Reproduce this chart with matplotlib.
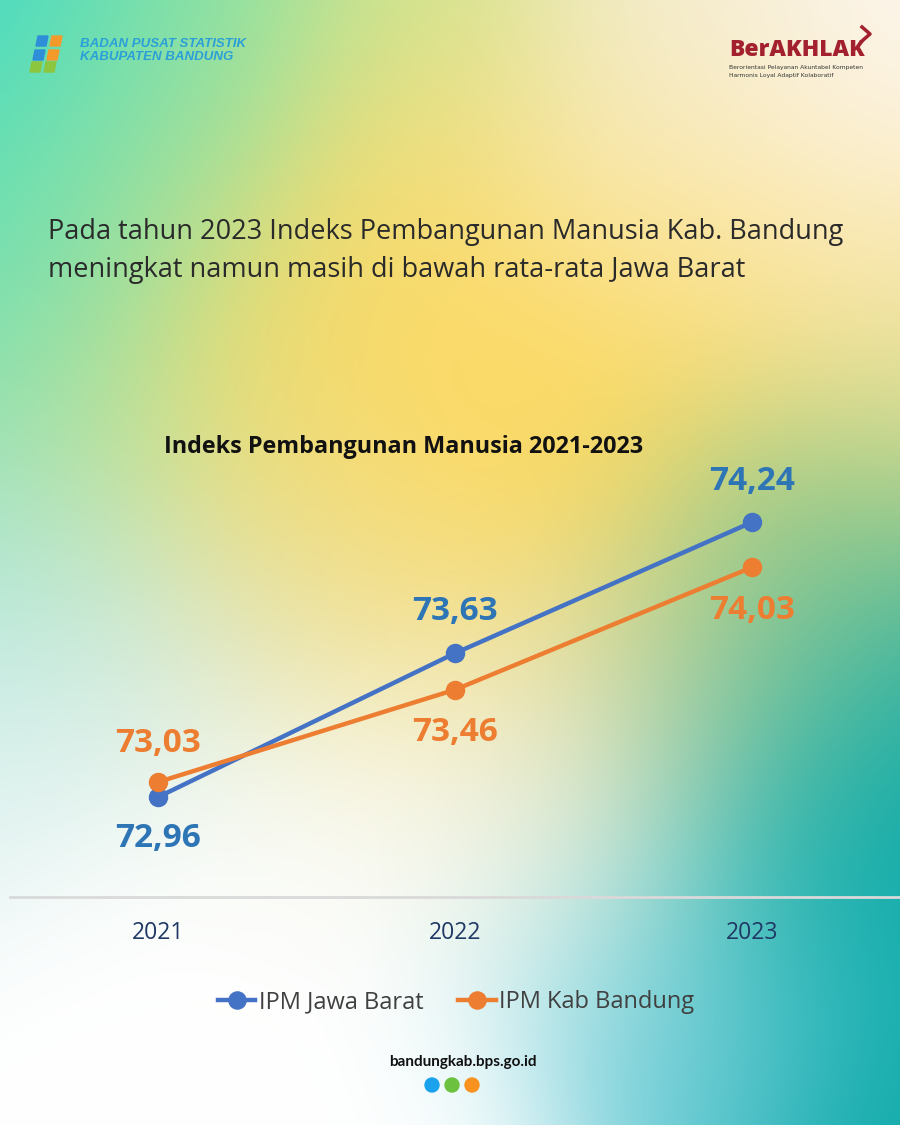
import numpy as np
import matplotlib.pyplot as plt
from matplotlib.colors import to_rgb
from matplotlib.patches import Circle, Polygon

# data
years = [2021, 2022, 2023]
ipm_jabar = [72.96, 73.63, 74.24]
ipm_kab = [73.03, 73.46, 74.03]
series_names = ["IPM Jawa Barat", "IPM Kab Bandung"]
headline = ("Pada tahun 2023 Indeks Pembangunan Manusia Kab. Bandung\n"
            "meningkat namun masih di bawah rata-rata Jawa Barat")
chart_title = "Indeks Pembangunan Manusia 2021-2023"

W, H = 900, 1125
fig = plt.figure(figsize=(9, 11.25), dpi=100)

# background gradient (blend of coloured blobs)
ctrl = [
    (0, 0, "#3edac8"), (0, 170, "#5ce0b6"), (200, 0, "#86e2a4"),
    (150, 180, "#a8e09a"), (420, 0, "#d0e48e"), (420, 160, "#f8dc76"),
    (620, 150, "#f9eab4"), (680, 0, "#f4ecd4"), (900, 0, "#fdf6ee"),
    (820, 170, "#fcf2dc"), (900, 320, "#fae6a8"), (720, 300, "#fcdb6c"),
    (450, 330, "#fdd962"), (280, 330, "#f6da6a"), (0, 330, "#78e0b4"),
    (120, 420, "#c2e194"), (300, 480, "#f6db74"), (560, 470, "#fdd95e"),
    (450, 600, "#f9dc76"), (300, 620, "#e8e2a6"), (0, 560, "#a8e6d6"),
    (140, 660, "#cdeae2"), (0, 760, "#e2f3f2"), (250, 800, "#fbfcf8"),
    (420, 830, "#ffffff"), (150, 950, "#ffffff"), (420, 1110, "#ffffff"),
    (150, 1110, "#ffffff"), (600, 900, "#c8ecf0"), (680, 1050, "#70cdd8"),
    (780, 900, "#18b0b0"), (900, 800, "#04a8a8"), (900, 1125, "#10aaaa"),
    (900, 650, "#1caea8"), (820, 560, "#86c688"), (900, 470, "#d0d882"),
    (700, 620, "#d0d488"), (760, 720, "#52baa6"), (600, 720, "#e8e0b0"),
    (500, 760, "#f6f2dc"),
]
yy, xx = np.mgrid[0:H:3, 0:W:3]
num = np.zeros(xx.shape + (3,))
den = np.zeros(xx.shape)
for cx, cy, c in ctrl:
    w = np.exp(-((xx - cx) ** 2 + (yy - cy) ** 2) / (2 * 110.0 ** 2)) + 1e-12
    num += w[..., None] * np.array(to_rgb(c))
    den += w
bg = np.clip(num / den[..., None], 0, 1)
bax = fig.add_axes([0, 0, 1, 1])
bax.imshow(bg, extent=[0, W, H, 0], aspect="auto", interpolation="bicubic")
bax.set_xlim(0, W)
bax.set_ylim(H, 0)
bax.axis("off")

# BPS logo (approximate)
for dx, dy, c in [(36, 36, "#2e8fd8"), (50, 36, "#f39a2b"), (33, 50, "#2e8fd8"),
                  (47, 50, "#f39a2b"), (30, 62, "#8cc63f"), (44, 62, "#8cc63f")]:
    bax.add_patch(Polygon([(dx + 2, dy), (dx + 12, dy), (dx + 10, dy + 10), (dx, dy + 10)],
                          closed=True, color=c))
bax.text(80, 44, "BADAN PUSAT STATISTIK", fontsize=9.5, color="#2b9fd8",
         fontweight="bold", style="italic", va="center", family="Liberation Sans")
bax.text(80, 57, "KABUPATEN BANDUNG", fontsize=9.5, color="#2b9fd8",
         fontweight="bold", style="italic", va="center", family="Liberation Sans")

# BerAKHLAK logo
bax.text(729, 50, "BerAKHLAK", fontsize=16.5, color="#a3202f", fontweight="heavy",
         va="center", family="Open Sans")
bax.plot([862, 870, 862], [27, 34, 41], color="#a3202f", lw=2.5)
bax.text(729, 68, "Berorientasi Pelayanan Akuntabel Kompeten", fontsize=4.3,
         color="#333333", va="center")
bax.text(729, 76, "Harmonis Loyal Adaptif Kolaboratif", fontsize=4.3,
         color="#333333", va="center")

# headline
bax.text(48, 251, headline, fontsize=19.5, color="#2a2a2a", va="center",
         linespacing=1.45, family="Open Sans")

# footer
bax.text(463, 1062, "bandungkab.bps.go.id", fontsize=11, fontweight="bold",
         color="#111111", ha="center", va="center", family="Lato")
for cx, c in [(432, "#1aa3ec"), (452, "#6cc23e"), (472, "#f7921e")]:
    bax.add_patch(Circle((cx, 1085), 7, color=c))

# chart title
bax.text(404, 447, chart_title, fontsize=16.8, fontweight="bold", color="#111111",
         ha="center", va="center", family="Open Sans")

# chart
ax = fig.add_axes([10 / W, (H - 897) / H, 890 / W, 457 / H])
ax.patch.set_alpha(0)
ax.plot(years, ipm_jabar, color="#4472c4", lw=3.2, marker="o", ms=13,
        label=series_names[0], zorder=3)
ax.plot(years, ipm_kab, color="#ed7d31", lw=3.2, marker="o", ms=13,
        label=series_names[1], zorder=3)

jab_off = [-30, 30, 29]
kab_off = [28, -31, -31]
for x, v, o in zip(years, ipm_jabar, jab_off):
    ax.annotate(f"{v:.2f}".replace(".", ","), (x, v), xytext=(0, o),
                textcoords="offset points", ha="center", va="center",
                fontsize=24, fontweight="bold", color="#2e75b6", family="Open Sans")
for x, v, o in zip(years, ipm_kab, kab_off):
    ax.annotate(f"{v:.2f}".replace(".", ","), (x, v), xytext=(0, o),
                textcoords="offset points", ha="center", va="center",
                fontsize=24, fontweight="bold", color="#ed7d31", family="Open Sans")

ax.set_xlim(2020.502, 2023.498)
ax.set_ylim(72.495, 74.6226)
ax.set_xticks(years)
ax.set_xticklabels([str(y) for y in years], fontsize=16.5, color="#1f3864",
                   family="Open Sans")
ax.tick_params(axis="x", length=0, pad=17)
ax.set_yticks([])
for s in ["top", "right", "left"]:
    ax.spines[s].set_visible(False)
ax.spines["bottom"].set_color("#d9d9d9")
ax.spines["bottom"].set_linewidth(2)

fig.legend(loc="center", bbox_to_anchor=(456 / W, (H - 1002) / H), ncol=2,
           frameon=False, prop={"family": "Open Sans", "size": 17},
           labelcolor="#404040", handlelength=1.6, columnspacing=1.45,
           handletextpad=0.15, markerscale=0.95)

fig.savefig("out.png", dpi=100)
